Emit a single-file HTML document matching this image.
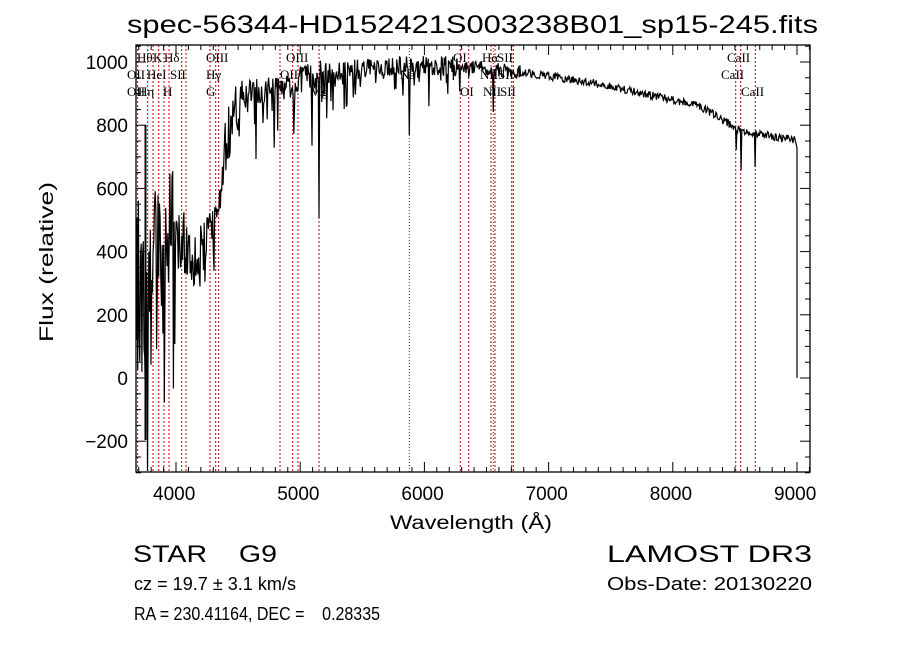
<!DOCTYPE html>
<html><head><meta charset="utf-8"><style>
body{margin:0;background:#fff;}
svg{display:block;}
text{font-family:"Liberation Sans",sans-serif;fill:#000;white-space:pre;}
.s{font-family:"Liberation Serif",serif;font-size:13px;}
</style></head><body>
<svg id="g" width="900" height="649" viewBox="0 0 900 649" xmlns="http://www.w3.org/2000/svg" xml:space="preserve">
<rect width="900" height="649" fill="#fff"/>
<g id="vl"></g>
<g id="lab"></g>
<path id="sp" fill="none" stroke="#000" stroke-width="1.2"/>
<line x1="145.5" y1="125" x2="145.5" y2="440" stroke="#000" stroke-width="2"/>
<rect x="136" y="45" width="674" height="427" fill="none" stroke="#000" stroke-width="1.3"/>
<g id="ticks" stroke="#000" stroke-width="1"></g>
<g id="tl" font-size="19"></g>
<text x="127" y="33" font-size="25" textLength="691" lengthAdjust="spacingAndGlyphs">spec-56344-HD152421S003238B01_sp15-245.fits</text>
<text x="390" y="529" font-size="19" textLength="162" lengthAdjust="spacingAndGlyphs">Wavelength (Å)</text>
<text transform="translate(53,342) rotate(-90)" font-size="19" textLength="160" lengthAdjust="spacingAndGlyphs">Flux (relative)</text>
<text x="133" y="562" font-size="24" textLength="144" lengthAdjust="spacingAndGlyphs">STAR    G9</text>
<text x="607" y="562" font-size="24" textLength="205" lengthAdjust="spacingAndGlyphs">LAMOST DR3</text>
<text x="134" y="590" font-size="18" textLength="162" lengthAdjust="spacingAndGlyphs">cz = 19.7 ± 3.1 km/s</text>
<text x="607" y="590" font-size="18" textLength="205" lengthAdjust="spacingAndGlyphs">Obs-Date: 20130220</text>
<text x="134" y="620" font-size="18" textLength="246" lengthAdjust="spacingAndGlyphs">RA = 230.41164, DEC =    0.28335</text>
</svg>
<script>
var NS="http://www.w3.org/2000/svg";
function el(p,t,a,txt){var e=document.createElementNS(NS,t);for(var k in a)e.setAttribute(k,a[k]);if(txt!==undefined)e.textContent=txt;document.getElementById(p).appendChild(e);return e;}
var X=function(w){return 176+(w-4000)*0.1242;};
var Y=function(f){return 378-f*0.316;};
var red=[137.7,147.7,153,158.7,164,169,181.7,186,210,215.7,218.7,280,292.7,298,319,460.3,468.7,491,495,511.7,513.3,735.7,740.7,755.3];
red.forEach(function(x){el("vl","line",{x1:x,x2:x,y1:45,y2:472,stroke:"#c00000","stroke-width":1,"stroke-dasharray":"2,2"});});
[409.3,493.3].forEach(function(x){el("vl","line",{x1:x,x2:x,y1:45,y2:472,stroke:"#333","stroke-width":1,"stroke-dasharray":"1,2"});});
var L=[[137,62,"Hθ"],[153,62,"K"],[164,62,"Hδ"],[127,79,"OII"],[147,79,"HeI"],[170,79,"SII"],[127,96,"OII"],[138,96,"Hη"],[163,96,"H"],[206,62,"OIII"],[206,79,"Hγ"],[206,96,"G"],[286,62,"OIII"],[280,79,"OII"],[310,96,"Mg"],[400,79,"Na"],[453,62,"OI"],[460,96,"OI"],[482,62,"Hα"],[497,62,"SII"],[480,79,"NII"],[498,79,"SII"],[483,96,"NII"],[500,96,"SII"],[727,62,"CaII"],[721,79,"CaII"],[741,96,"CaII"]];
L.forEach(function(l){el("lab","text",{x:l[0],y:l[1],"class":"s"},l[2]);});
for(var w=3700;w<=9100;w+=100){var x=X(w);var big=w%1000==0;var h=big?10:5;
 el("ticks","line",{x1:x,x2:x,y1:472,y2:472-h});el("ticks","line",{x1:x,x2:x,y1:45,y2:45+h});
 if(big&&w>=4000&&w<=9000)el("tl","text",{x:x-23,y:500},String(w));}
for(var f=-300;f<=1050;f+=50){var y=Y(f);var big=f%200==0;var h=big?10:5;
 el("ticks","line",{x1:136,x2:136+h,y1:y,y2:y});el("ticks","line",{x1:810,x2:810-h,y1:y,y2:y});
 if(big)el("tl","text",{x:128,y:y+7,"text-anchor":"end"},String(f).replace("-","−"));}
var s=12345;function r(){s=(s*16807)%2147483647;return s/2147483647;}
function base(x){
 var pts=[[137,290],[175,250],[185,245],[200,262],[210,240],[225,150],[240,95],[280,88],[300,80],[320,72],[410,66],[460,66],[520,72],[600,84],[700,106],[735,128],[745,132],[795,140]];
 for(var i=0;i<pts.length-1;i++){if(x<=pts[i+1][0]){var a=pts[i],b=pts[i+1];return a[1]+(b[1]-a[1])*(x-a[0])/(b[0]-a[0]);}}return 140;}
function amp(x){if(x<175)return 90;if(x<210)return 35;if(x<240)return 30;if(x<330)return 14;if(x<460)return 10;if(x<520)return 7;return 4;}
var d="M137,340";
for(var x=137;x<=795;x+=0.7){var y=base(x)+(r()-0.5)*2*amp(x);
 if(x<175&&r()>0.85)y+=r()*140;
 if(x>210&&x<470&&r()>0.8)y+=r()*(x<330?60:35);
 if(Math.abs(x-319)<0.5)y=218;if(Math.abs(x-409.3)<0.4)y=135;if(Math.abs(x-493)<0.4)y=112;
 if(Math.abs(x-736)<0.4)y=150;if(Math.abs(x-741)<0.4)y=170;if(Math.abs(x-755.3)<0.4)y=167;
 y=Math.max(46,Math.min(471,y));d+="L"+x.toFixed(1)+","+y.toFixed(1);}
d+="L797,148L797,378";
document.getElementById("sp").setAttribute("d",d);
</script>
</body></html>
